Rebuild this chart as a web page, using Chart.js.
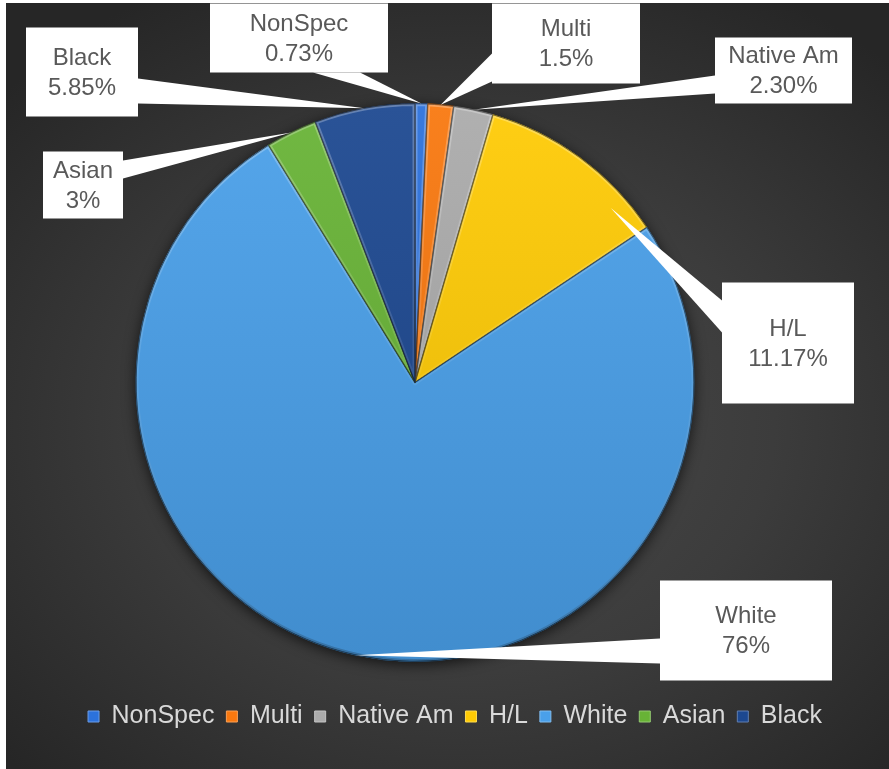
<!DOCTYPE html>
<html>
<head>
<meta charset="utf-8">
<script src="https://cdn.jsdelivr.net/npm/chart.js@4.4.0/dist/chart.umd.min.js"></script>
<style>
  body { margin: 0; background: #fff; }
  #wrap {
    position: absolute; left: 6px; top: 3px; width: 883px; height: 766px;
    background: radial-gradient(ellipse 70% 65% at 52% 55%, #4a4a4a 0%, #3c3c3c 50%, #262626 100%);
  }
</style>
</head>
<body>
<div id="wrap"><canvas id="myChart" width="883" height="766"></canvas></div>
<script>
/* pie data */
const categories = ['NonSpec', 'Multi', 'Native Am', 'H/L', 'White', 'Asian', 'Black'];
const shares = [0.73, 1.5, 2.30, 11.17, 76, 3, 5.85];
const shareText = ['0.73%', '1.5%', '2.30%', '11.17%', '76%', '3%', '5.85%'];
const sliceColors = ['#2c72dc', '#f9780f', '#ababab', '#ffcb05', '#4aa0ea', '#68b336', '#1c4890'];

/* where the white callout boxes sit, relative to the pie centre */
const callouts = [
  {dx: -205, dy: -379, w: 178, h: 69, side: 'bottom', a: 103, b: 150, at: 0.5, r: 1},
  {dx: 77, dy: -379, w: 148, h: 80, side: 'left', a: 50, b: 78, at: 0.5, r: 1},
  {dx: 300, dy: -345, w: 137, h: 66, side: 'left', a: 38, b: 56, at: 0.5, r: 1},
  {dx: 307, dy: -100, w: 132, h: 121, side: 'left', a: 18, b: 50, at: 0.8, r: 0.94},
  {dx: 245, dy: 198, w: 172, h: 100, side: 'left', a: 58, b: 83, at: 0.5, r: 1},
  {dx: -372, dy: -231, w: 80, h: 67, side: 'right', a: 9, b: 27, at: 0.5, r: 1},
  {dx: -389, dy: -355, w: 112, h: 89, side: 'right', a: 51, b: 76, at: 0.5, r: 1}
];

const pieRadius = 279;

function shade(hex, amt) {
  let n = parseInt(hex.slice(1), 16);
  let r = n >> 16, g = (n >> 8) & 255, b = n & 255;
  const f = v => Math.round(amt > 0 ? v + (255 - v) * amt : v * (1 + amt));
  return 'rgb(' + f(r) + ',' + f(g) + ',' + f(b) + ')';
}

function arcPath(ctx, arc) {
  ctx.beginPath();
  ctx.moveTo(arc.x, arc.y);
  ctx.arc(arc.x, arc.y, arc.outerRadius, arc.startAngle, arc.endAngle);
  ctx.closePath();
}

// shadow under the pie
const pieShadow = {
  id: 'pieShadow',
  beforeDatasetsDraw(chart) {
    const arc = chart.getDatasetMeta(0).data[0];
    if (!arc) return;
    const ctx = chart.ctx;
    ctx.save();
    ctx.shadowColor = 'rgba(0,0,0,0.7)';
    ctx.shadowBlur = 14;
    ctx.shadowOffsetY = 3;
    ctx.fillStyle = '#2a2a2a';
    ctx.beginPath();
    ctx.arc(arc.x, arc.y, arc.outerRadius, 0, Math.PI * 2);
    ctx.fill();
    ctx.restore();
  }
};

// soft bevel on every slice: light rim at the top, darker rim at the bottom
const bevel = {
  id: 'bevel',
  afterDatasetsDraw(chart) {
    const ctx = chart.ctx;
    const arcs = chart.getDatasetMeta(0).data;
    arcs.forEach(arc => {
      ctx.save();
      arcPath(ctx, arc);
      ctx.clip();
      const g = ctx.createLinearGradient(0, arc.y - arc.outerRadius, 0, arc.y + arc.outerRadius);
      g.addColorStop(0, 'rgba(255,255,255,0.28)');
      g.addColorStop(0.5, 'rgba(255,255,255,0.08)');
      g.addColorStop(1, 'rgba(0,0,0,0.22)');
      arcPath(ctx, arc);
      ctx.strokeStyle = g;
      ctx.lineWidth = 5;
      ctx.lineJoin = 'round';
      ctx.stroke();
      arcPath(ctx, arc);
      ctx.strokeStyle = 'rgba(0,0,0,0.35)';
      ctx.lineWidth = 1.5;
      ctx.stroke();
      ctx.restore();
    });
  }
};

// callout boxes with the wedge pointers
const calloutLabels = {
  id: 'calloutLabels',
  afterDatasetsDraw(chart) {
    const ctx = chart.ctx;
    const arcs = chart.getDatasetMeta(0).data;
    ctx.save();
    ctx.fillStyle = '#ffffff';
    arcs.forEach((arc, i) => {
      const c = callouts[i];
      const bx = arc.x + c.dx, by = arc.y + c.dy;
      const ang = arc.startAngle + c.at * (arc.endAngle - arc.startAngle);
      const tx = arc.x + Math.cos(ang) * arc.outerRadius * c.r;
      const ty = arc.y + Math.sin(ang) * arc.outerRadius * c.r;
      let p1, p2;
      if (c.side === 'bottom') { p1 = [bx + c.a, by + c.h]; p2 = [bx + c.b, by + c.h]; }
      else if (c.side === 'left') { p1 = [bx, by + c.a]; p2 = [bx, by + c.b]; }
      else { p1 = [bx + c.w, by + c.a]; p2 = [bx + c.w, by + c.b]; }
      ctx.beginPath();
      ctx.moveTo(p1[0], p1[1]);
      ctx.lineTo(tx, ty);
      ctx.lineTo(p2[0], p2[1]);
      ctx.closePath();
      ctx.fill();
    });
    arcs.forEach((arc, i) => {
      const c = callouts[i];
      const bx = arc.x + c.dx, by = arc.y + c.dy;
      ctx.fillStyle = '#ffffff';
      ctx.fillRect(bx, by, c.w, c.h);
      ctx.fillStyle = '#595959';
      ctx.font = "24px 'Liberation Sans', Arial, sans-serif";
      ctx.textAlign = 'center';
      ctx.textBaseline = 'middle';
      ctx.fillText(categories[i], bx + c.w / 2, by + c.h / 2 - 14);
      ctx.fillText(shareText[i], bx + c.w / 2, by + c.h / 2 + 16);
    });
    ctx.restore();
  }
};

Chart.defaults.font.family = "'Liberation Sans', Arial, sans-serif";

let myChart = document.getElementById('myChart').getContext('2d');
let pieChart = new Chart(myChart, {
  type: 'pie',
  data: {
    labels: categories,
    datasets: [{
      data: shares,
      backgroundColor: function(context) {
        const base = sliceColors[context.dataIndex];
        const area = context.chart.chartArea;
        if (!area) return base;
        const cy = (area.top + area.bottom) / 2;
        const g = context.chart.ctx.createLinearGradient(0, cy - pieRadius, 0, cy + pieRadius);
        g.addColorStop(0, shade(base, 0.06));
        g.addColorStop(1, shade(base, -0.12));
        return g;
      },
      borderColor: sliceColors.map(c => shade(c, -0.45)),
      borderWidth: 1,
      hoverOffset: 0,
      radius: pieRadius
    }]
  },
  options: {
    responsive: false,
    animation: false,
    layout: {
      padding: {top: 70, left: 15, right: 0, bottom: 30}
    },
    plugins: {
      tooltip: {enabled: false},
      title: {
        display: true,
        position: 'right',
        fullSize: false,
        text: '',
        font: {size: 10},
        padding: {top: 34, bottom: 34}
      },
      legend: {
        position: 'bottom',
        labels: {
          color: '#d9d9d9',
          font: {size: 25},
          boxWidth: 11,
          boxHeight: 11,
          padding: 12,
          generateLabels: function(chart) {
            return categories.map((name, i) => ({
              text: name,
              fillStyle: sliceColors[i],
              strokeStyle: shade(sliceColors[i], 0.3),
              lineWidth: 1,
              fontColor: '#d9d9d9',
              hidden: false,
              index: i
            }));
          }
        }
      }
    }
  },
  plugins: [pieShadow, bevel, calloutLabels]
});
</script>
</body>
</html>
